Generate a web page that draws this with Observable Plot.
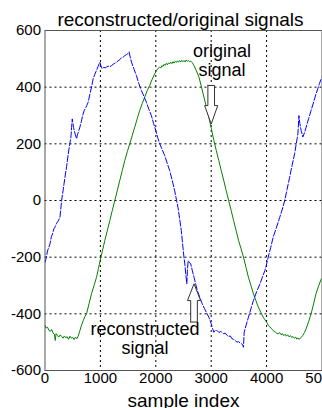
<!DOCTYPE html>
<html><head><meta charset="utf-8">
<script src="https://cdn.jsdelivr.net/npm/d3@7"></script>
<script src="https://cdn.jsdelivr.net/npm/@observablehq/plot@0.6"></script>
<style>
body{margin:0;background:#fff;}
svg{font-family:"Liberation Sans",Arial,Helvetica,sans-serif;}
</style>
</head><body><div id="chart"></div>
<script>
const titleText = "reconstructed/original signals";
const xLabel = "sample index";
const xTicks = [0, 1000, 2000, 3000, 4000, 5000];
const yTicks = [-600, -400, -200, 0, 200, 400, 600];

// original signal: [sample, value]
const originalSignal = [
[0,-441],[20,-450],[45,-447],[70,-458],[95,-462],[120,-455],[145,-468],[170,-472],[185,-494],[200,-470],
[225,-476],[250,-482],[275,-474],[300,-480],[325,-486],[350,-478],[375,-484],[400,-481],[425,-490],[450,-479],
[475,-486],[500,-483],[525,-491],[550,-482],[575,-488],[600,-478],[630,-459],[660,-440],[690,-424],[720,-410],
[750,-400],[795,-364],[840,-329],[885,-300],[930,-271],[965,-240],[996,-212],[1040,-175],[1080,-141],[1125,-106],
[1170,-71],[1215,-35],[1260,0],[1305,35],[1350,71],[1395,106],[1440,141],[1485,172],[1530,200],[1575,230],
[1620,259],[1665,289],[1710,318],[1755,342],[1800,365],[1845,388],[1890,406],[1935,428],[1980,447],[2010,458],
[2040,466],[2070,471],[2090,468],[2110,476],[2130,473],[2150,481],[2170,477],[2190,484],[2210,479],[2230,486],
[2250,482],[2270,488],[2290,483],[2310,490],[2330,485],[2350,491],[2370,487],[2390,493],[2410,488],[2430,494],
[2450,489],[2470,495],[2490,490],[2510,494],[2530,489],[2550,496],[2570,491],[2590,494],[2610,490],[2631,492],
[2660,486],[2690,476],[2735,457],[2780,435],[2825,400],[2869,365],[2913,330],[2958,294],[3003,253],[3048,212],
[3092,176],[3137,141],[3181,106],[3226,71],[3270,35],[3315,0],[3360,-35],[3405,-71],[3450,-106],[3494,-141],
[3540,-171],[3583,-200],[3628,-236],[3672,-271],[3717,-300],[3762,-329],[3806,-353],[3851,-376],[3895,-395],[3940,-412],
[3970,-421],[4000,-429],[4030,-440],[4060,-446],[4089,-453],[4120,-459],[4150,-463],[4180,-468],[4208,-471],[4235,-466],
[4260,-474],[4285,-470],[4310,-477],[4335,-472],[4357,-479],[4380,-474],[4405,-481],[4430,-477],[4455,-484],[4476,-480],
[4500,-486],[4525,-482],[4545,-489],[4565,-486],[4590,-490],[4615,-484],[4635,-481],[4654,-476],[4684,-466],[4714,-453],
[4758,-428],[4803,-400],[4848,-365],[4892,-329],[4940,-301],[4988,-276]
];

// reconstructed signal: [sample, value]
const reconstructedSignal = [
[0,-218],[20,-205],[45,-178],[70,-165],[90,-153],[115,-128],[135,-118],[160,-100],[180,-94],[210,-80],
[240,-72],[270,-59],[285,-30],[300,0],[330,40],[360,82],[390,120],[420,165],[445,196],[468,224],
[480,258],[492,288],[505,272],[515,258],[528,247],[548,232],[570,218],[585,232],[600,240],[630,259],
[655,278],[680,300],[708,318],[730,325],[755,336],[780,347],[810,375],[840,400],[870,430],[900,446],
[930,459],[960,474],[990,488],[1010,475],[1032,465],[1060,470],[1085,468],[1110,471],[1140,474],[1170,472],
[1200,476],[1230,481],[1260,484],[1290,488],[1320,493],[1350,497],[1380,504],[1410,506],[1440,511],[1470,515],
[1495,518],[1518,524],[1545,500],[1572,482],[1610,462],[1650,441],[1695,412],[1740,388],[1785,368],[1830,347],
[1875,322],[1920,300],[1960,272],[2000,247],[2035,222],[2070,200],[2115,180],[2160,159],[2205,132],[2250,106],
[2295,72],[2340,35],[2370,5],[2400,-24],[2430,-64],[2460,-106],[2482,-150],[2508,-200],[2524,-224],[2542,-262],
[2560,-294],[2570,-250],[2583,-212],[2605,-218],[2631,-224],[2660,-248],[2690,-271],[2720,-295],[2750,-318],[2795,-342],
[2839,-365],[2880,-382],[2920,-398],[2958,-412],[3000,-435],[3025,-452],[3048,-465],[3075,-458],[3107,-459],[3140,-466],
[3170,-462],[3196,-465],[3225,-470],[3255,-468],[3286,-476],[3315,-480],[3345,-478],[3375,-488],[3405,-490],[3435,-494],
[3464,-500],[3495,-498],[3525,-504],[3553,-506],[3570,-510],[3583,-518],[3595,-465],[3630,-440],[3672,-412],[3717,-382],
[3762,-353],[3820,-322],[3881,-294],[3925,-270],[3970,-247],[4000,-224],[4029,-200],[4075,-165],[4119,-129],[4180,-94],
[4238,-59],[4285,-30],[4327,0],[4370,40],[4416,82],[4460,124],[4506,165],[4535,200],[4565,235],[4575,270],
[4583,300],[4600,272],[4624,247],[4640,235],[4654,224],[4685,240],[4714,259],[4760,290],[4803,318],[4850,348],
[4892,376],[4925,395],[4952,412],[4988,430],[5000,436]
];

// annotation arrows (data units) and labels
const arrowX = [3000, 2690];
const arrowTail = [406, -429];
const arrowNeck = [335, -353];
const arrowTip = [270, -294];
const noteText = ["original\nsignal", "reconstructed\nsignal"];
const noteX = [3195, 1807];
const noteY = [555, -429];

const shaftHalf = 60, headHalf = 118;
const arrowPoly = [];
arrowX.forEach((x, i) => {
  const pts = [
    [x - shaftHalf, arrowTail[i]], [x - shaftHalf, arrowNeck[i]], [x - headHalf, arrowNeck[i]],
    [x, arrowTip[i]], [x + headHalf, arrowNeck[i]], [x + shaftHalf, arrowNeck[i]],
    [x + shaftHalf, arrowTail[i]], [x - shaftHalf, arrowTail[i]]
  ];
  pts.forEach(p => arrowPoly.push({id: i, x: p[0], y: p[1]}));
});
const notes = noteText.map((t, i) => ({t, x: noteX[i], y: noteY[i]}));
const orig = originalSignal.map(([x, y]) => ({x, y}));
const recon = reconstructedSignal.map(([x, y]) => ({x, y}));

const chart = Plot.plot({
  width: 322,
  height: 408,
  marginLeft: 44.5,
  marginRight: 0.5,
  marginTop: 30,
  marginBottom: 38,
  style: {fontSize: "15px", fontFamily: '"Liberation Sans", Arial, sans-serif', color: "#000", background: "#fff"},
  x: {domain: [0, 5000]},
  y: {domain: [-600, 600]},
  marks: [
    Plot.ruleX(xTicks.slice(1, -1), {stroke: "#000", strokeWidth: 1, strokeDasharray: "2,3"}),
    Plot.ruleY(yTicks.slice(1, -1), {stroke: "#000", strokeWidth: 1, strokeDasharray: "2,3"}),
    Plot.line(orig, {x: "x", y: "y", stroke: "#008000", strokeWidth: 1, clip: true}),
    Plot.line(recon, {x: "x", y: "y", stroke: "#0000ff", strokeWidth: 1, strokeDasharray: "6,2", clip: true}),
    Plot.line(arrowPoly, {x: "x", y: "y", z: "id", fill: "#fff", stroke: "#333", strokeWidth: 1, curve: "linear"}),
    Plot.text(notes, {x: "x", y: "y", text: "t", lineAnchor: "top", textAnchor: "middle", fontSize: 18, lineHeight: 1.05, fill: "#000"}),
    Plot.frame({stroke: "#555", strokeWidth: 1}),
    Plot.axisX(xTicks, {tickSize: 0, tickPadding: 2, tickFormat: d => String(d), label: null, fontSize: 15}),
    Plot.axisY(yTicks, {tickSize: 0, tickPadding: 4, tickFormat: d => String(d), label: null, fontSize: 15}),
    Plot.text([titleText], {frameAnchor: "top", text: d => d, lineAnchor: "top", dy: -18, dx: -3, fontSize: 19, fill: "#000"}),
    Plot.text([xLabel], {frameAnchor: "bottom", text: d => d, lineAnchor: "top", dy: 23, fontSize: 19, fill: "#000"})
  ]
});
document.getElementById("chart").appendChild(chart);
</script>
</body></html>
